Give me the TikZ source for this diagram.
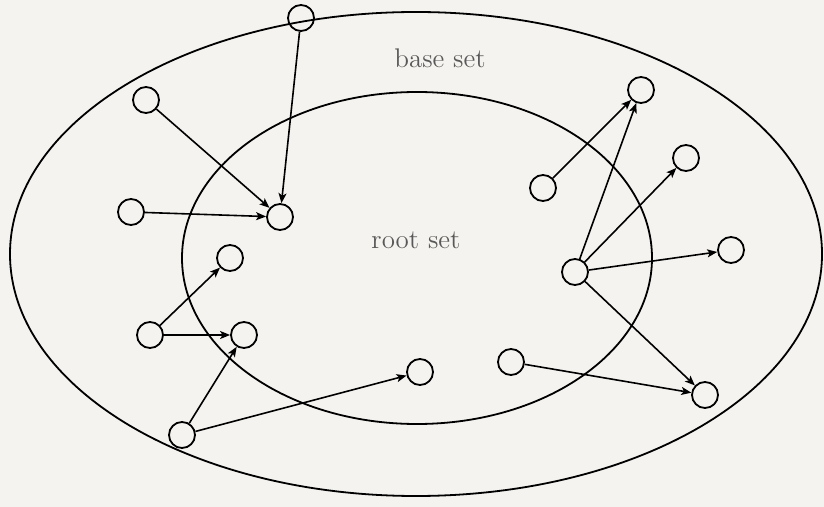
\documentclass[tikz,border=0pt]{standalone}
\usepackage{xcolor}
\usepackage{tikz}
\usetikzlibrary{arrows.meta}
\definecolor{paperbg}{HTML}{F4F3EF}
\definecolor{labelgray}{HTML}{585858}
\tikzset{
  page/.style={x=0.5pt,y=-0.5pt},
  vertex/.style={circle,draw=black,line width=0.9pt,minimum size=13pt,inner sep=0pt},
  setline/.style={draw=black,line width=0.9pt},
  setlabel/.style={text=labelgray,font=\fontsize{13.5}{16}\selectfont},
  arrow/.style={-{Stealth[length=5pt,width=4pt,inset=1.2pt]},line width=0.8pt,draw=black}
}
\begin{document}
\begin{tikzpicture}[page]
  \useasboundingbox[fill=paperbg] (0,0) rectangle (824,507);
  % the two sets
  \draw[setline] (416,254) ellipse [x radius=406,y radius=242];
  \draw[setline] (417,258) ellipse [x radius=235,y radius=166];
  \node[setlabel] (base) at (440,58) {base set};
  \node[setlabel] (root) at (416,240) {root set};
  % pages
  \node[vertex] (a) at (301,18) {};
  \node[vertex] (b) at (146,100) {};
  \node[vertex] (c) at (131,212) {};
  \node[vertex] (d) at (280,217) {};
  \node[vertex] (e) at (230,258) {};
  \node[vertex] (f) at (150,335) {};
  \node[vertex] (g) at (244,335) {};
  \node[vertex] (h) at (182,435) {};
  \node[vertex] (i) at (420,372) {};
  \node[vertex] (j) at (511,362) {};
  \node[vertex] (k) at (543,188) {};
  \node[vertex] (l) at (641,90) {};
  \node[vertex] (m) at (686,158) {};
  \node[vertex] (n) at (575,272) {};
  \node[vertex] (o) at (731,250) {};
  \node[vertex] (p) at (705,395) {};
  % links
  \draw[arrow] (b) -- (d);
  \draw[arrow] (a) -- (d);
  \draw[arrow] (c) -- (d);
  \draw[arrow] (f) -- (e);
  \draw[arrow] (f) -- (g);
  \draw[arrow] (h) -- (g);
  \draw[arrow] (h) -- (i);
  \draw[arrow] (k) -- (l);
  \draw[arrow] (n) -- (l);
  \draw[arrow] (n) -- (m);
  \draw[arrow] (n) -- (o);
  \draw[arrow] (n) -- (p);
  \draw[arrow] (j) -- (p);
\end{tikzpicture}
\end{document}
